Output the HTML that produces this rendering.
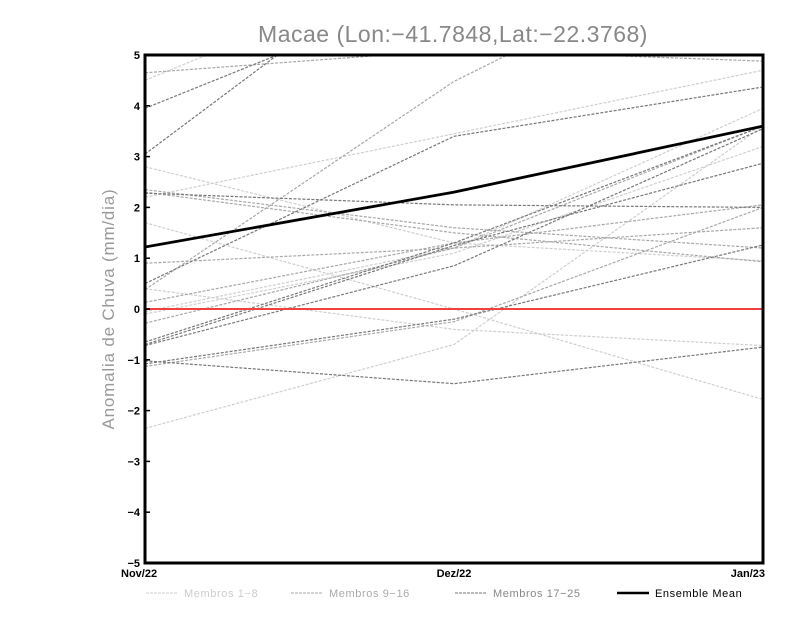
<!DOCTYPE html>
<html><head><meta charset="utf-8"><style>
html,body{margin:0;padding:0;background:#fff;}
svg{display:block;font-family:"Liberation Sans",sans-serif;}
</style></head><body>
<svg id="chart" width="800" height="618" viewBox="0 0 800 618" xmlns="http://www.w3.org/2000/svg">
<defs><clipPath id="pc"><rect x="145" y="55" width="618" height="508"/></clipPath></defs>
<text x="453" y="42" text-anchor="middle" font-size="23" fill="#888" letter-spacing="0.5">Macae (Lon:−41.7848,Lat:−22.3768)</text>
<text transform="translate(114,309) rotate(-90)" text-anchor="middle" font-size="17" fill="#999" letter-spacing="0.8">Anomalia de Chuva (mm/dia)</text>
<g id="marks" clip-path="url(#pc)"></g>
<g id="axes"></g>
<g id="legend"></g>
</svg>
<script>
const categories = ["Nov/22","Dez/22","Jan/23"];
const yTicks = [-5,-4,-3,-2,-1,0,1,2,3,4,5];
const members1to8 = [
  [4.5,7.0,6.0],[2.8,1.3,0.95],[2.2,3.45,4.7],[1.7,0.0,-1.78],
  [-0.05,1.2,3.95],[-0.1,1.1,3.2],[-2.35,-0.7,3.6],[0.4,-0.4,-0.72]
];
const members9to16 = [
  [4.65,5.1,4.88],[0.38,4.48,7.5],[2.35,1.6,1.2],[2.3,1.5,0.93],
  [0.9,1.2,1.6],[0.13,1.3,2.05],[-0.28,1.2,3.6],[-1.13,-0.25,2.0]
];
const members17to25 = [
  [3.95,6.4,7.0],[2.28,2.05,2.0],[0.5,3.4,4.37],[3.05,7.6,8.0],
  [-0.65,1.3,3.6],[-0.7,1.25,2.87],[-0.72,0.85,3.55],[-1.02,-1.47,-0.75],[-1.08,-0.2,1.26]
];
const ensembleMean = [1.22,2.3,3.6];

const NS="http://www.w3.org/2000/svg";
const X0=145,X1=763,Y0=563,Y1=55;
function xs(i){return X0+(X1-X0)*i/(categories.length-1);}
function ys(v){return Y0-(v+5)/10*(Y0-Y1);}
function mk(tag,attrs,parent){const e=document.createElementNS(NS,tag);for(const k in attrs)e.setAttribute(k,attrs[k]);parent.appendChild(e);return e;}
const marks=document.getElementById('marks'),axes=document.getElementById('axes'),legend=document.getElementById('legend');
function pts(s){return s.map((v,i)=>xs(i)+","+ys(v)).join(" ");}
function drawGroup(arr,color,name){
  arr.forEach((s,k)=>{
    const p=mk('polyline',{points:pts(s),fill:'none',stroke:color,'stroke-width':1.2,'stroke-dasharray':'3,1.5'},marks);
    
    
  });
}
drawGroup(members1to8,'#cfcfcf','member-light');
drawGroup(members9to16,'#a8a8a8','member-medium');
drawGroup(members17to25,'#777','member-dark');
const zl=mk('line',{x1:X0,x2:X1,y1:ys(0),y2:ys(0),stroke:'#f04040','stroke-width':2},marks);


const ml=mk('polyline',{points:pts(ensembleMean),fill:'none',stroke:'#000','stroke-width':2.8},marks);


const fr=mk('rect',{x:X0,y:Y1,width:X1-X0,height:Y0-Y1,fill:'none',stroke:'#000','stroke-width':3},axes);


yTicks.forEach(t=>{
  const tx=mk('text',{x:140,y:ys(t)+4,'text-anchor':'end','font-size':11,'font-weight':'bold',fill:'#000'},axes);
  tx.textContent=(t<0?'−':'')+Math.abs(t);
  
  
  const tl=mk('line',{x1:X0,x2:X0+5,y1:ys(t),y2:ys(t),stroke:'#000','stroke-width':1.5},axes);
  
  
});
categories.forEach((c,i)=>{
  const anchor=i===0?'start':(i===categories.length-1?'end':'middle');
  const tx=mk('text',{x:xs(i)+(i===categories.length-1?2:0),y:577,'text-anchor':anchor,'font-size':11,'font-weight':'bold',fill:'#000'},axes);
  if(i===0){tx.setAttribute('x',121);}
  tx.textContent=c;
  
  
});
const leg=[["Membros 1−8","#cfcfcf",146,false],["Membros 9−16","#a8a8a8",291,false],["Membros 17−25","#777",455,false],["Ensemble Mean","#000",617,true]];
leg.forEach(l=>{
  const ln=mk('line',{x1:l[2],x2:l[2]+32,y1:593,y2:593,stroke:l[1],'stroke-width':l[3]?2.5:1,'stroke-dasharray':l[3]?'none':'3,1'},legend);
  
  
  const tx=mk('text',{x:l[2]+38,y:597,'font-size':11,fill:l[3]?'#000':(l[1]==='#777'?'#888':(l[1]==='#a8a8a8'?'#aaa':'#ccc')),'letter-spacing':0.6},legend);
  tx.textContent=l[0];
  
  
});
</script>
</body></html>
